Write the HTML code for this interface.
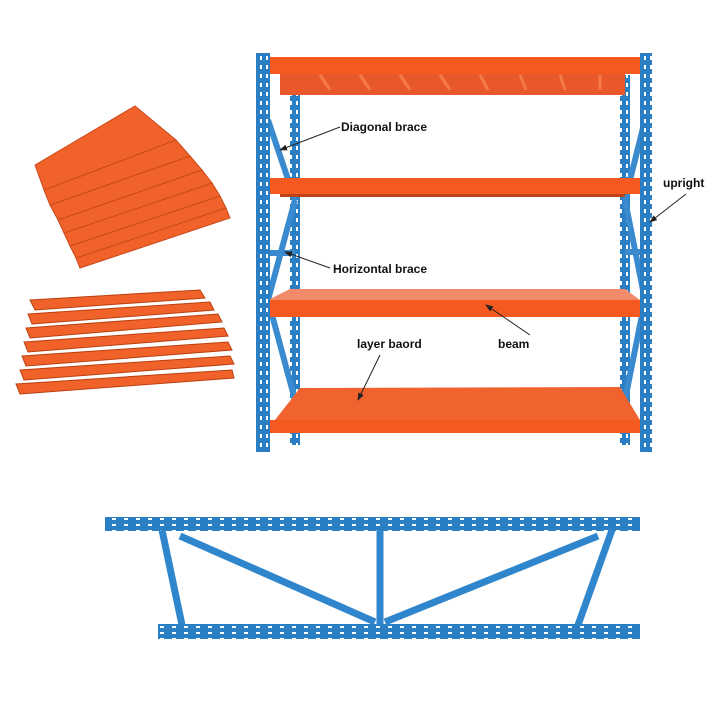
<!DOCTYPE html>
<html><head><style>
html,body{margin:0;padding:0;background:#fff;}
svg{display:block}
text{font-family:"Liberation Sans",sans-serif;font-weight:bold;font-size:12px;fill:#111}
</style></head><body>
<svg width="720" height="720" viewBox="0 0 720 720">
<defs>
<pattern id="holes" width="6" height="9" patternUnits="userSpaceOnUse"><rect width="6" height="9" fill="#2a7fc4"/><rect x="2" y="2" width="2" height="4" fill="#fff"/></pattern>
<pattern id="holesh" width="12" height="6" patternUnits="userSpaceOnUse"><rect width="12" height="6" fill="#2a7fc4"/><rect x="4" y="2" width="4" height="2" fill="#fff"/></pattern>
<marker id="ah" markerWidth="8" markerHeight="6" refX="7" refY="3" orient="auto" markerUnits="userSpaceOnUse"><path d="M0,0 L8,3 L0,6 z" fill="#222"/></marker>
</defs>
<g fill="#f0622a" stroke="#c94a1a" stroke-width="1">
<polygon points="80,268 230,218 226,208 76,258"/>
<polygon points="76,258 226,208 220,196 70,246"/>
<polygon points="70,246 220,196 212,183 64,233"/>
<polygon points="64,233 212,183 202,170 58,220"/>
<polygon points="58,220 202,170 190,156 50,205"/>
<polygon points="50,205 190,156 176,140 44,190"/>
<polygon points="35,165 135,106 176,140 44,190"/>
</g>
<g fill="#f0622a" stroke="#b94010" stroke-width="1">
<polygon points="30,300 200,290 205,298 35,310"/>
<polygon points="28,314 210,302 214,310 32,324"/>
<polygon points="26,328 218,314 222,322 30,338"/>
<polygon points="24,342 224,328 228,336 28,352"/>
<polygon points="22,356 228,342 232,350 26,366"/>
<polygon points="20,370 230,356 234,364 24,380"/>
<polygon points="16,384 232,370 234,378 20,394"/>
</g>
<rect x="290" y="75" width="10" height="370" fill="url(#holes)"/>
<rect x="620" y="75" width="10" height="370" fill="url(#holes)"/>
<g stroke="#3a8ad0" stroke-width="6" fill="none">
<line x1="268" y1="120" x2="295" y2="200"/>
<line x1="295" y1="200" x2="268" y2="300"/>
<line x1="268" y1="300" x2="295" y2="400"/>
<line x1="645" y1="120" x2="625" y2="200"/>
<line x1="625" y1="200" x2="645" y2="300"/>
<line x1="645" y1="300" x2="625" y2="400"/>
<line x1="270" y1="253" x2="295" y2="253"/>
<line x1="625" y1="252" x2="645" y2="252"/>
</g>
<rect x="280" y="73" width="345" height="22" fill="#e8582a"/>
<g stroke="#f47a4a" stroke-width="3"><line x1="320" y1="75" x2="330" y2="90"/><line x1="360" y1="75" x2="370" y2="90"/><line x1="400" y1="75" x2="410" y2="90"/><line x1="440" y1="75" x2="450" y2="90"/><line x1="480" y1="75" x2="488" y2="90"/><line x1="520" y1="75" x2="526" y2="90"/><line x1="560" y1="75" x2="565" y2="90"/><line x1="600" y1="75" x2="600" y2="90"/></g>
<rect x="263" y="57" width="382" height="17" fill="#f4591f"/>
<rect x="265" y="178" width="378" height="16" fill="#f4591f"/>
<rect x="280" y="194" width="345" height="3" fill="#c04318"/>
<polygon points="290,289 625,289 640,300 268,300" fill="#f08a6a"/>
<rect x="268" y="300" width="372" height="17" fill="#f4591f"/>
<polygon points="300,388 620,387 640,420 275,420" fill="#f0622e"/>
<rect x="270" y="420" width="370" height="13" fill="#f4591f"/>
<rect x="256" y="53" width="14" height="399" fill="url(#holes)"/>
<rect x="640" y="53" width="12" height="399" fill="url(#holes)"/>
<g stroke="#222" stroke-width="1" marker-end="url(#ah)"><line x1="340" y1="127" x2="280" y2="150"/><line x1="330" y1="268" x2="285" y2="252"/><line x1="686" y1="194" x2="650" y2="222"/><line x1="530" y1="335" x2="486" y2="305"/><line x1="380" y1="355" x2="358" y2="400"/></g>
<text x="341" y="131">Diagonal brace</text>
<text x="333" y="273">Horizontal brace</text>
<text x="663" y="187">upright</text>
<text x="357" y="348">layer baord</text>
<text x="498" y="348">beam</text>
<rect x="105" y="517" width="535" height="14" fill="url(#holesh)"/>
<rect x="158" y="624" width="482" height="15" fill="url(#holesh)"/>
<g stroke="#2f86cc" stroke-width="7" fill="none">
<line x1="162" y1="530" x2="182" y2="625"/>
<line x1="180" y1="536" x2="375" y2="622"/>
<line x1="380" y1="530" x2="380" y2="625"/>
<line x1="385" y1="622" x2="598" y2="536"/>
<line x1="612" y1="530" x2="578" y2="625"/>
</g>
</svg>
</body></html>
